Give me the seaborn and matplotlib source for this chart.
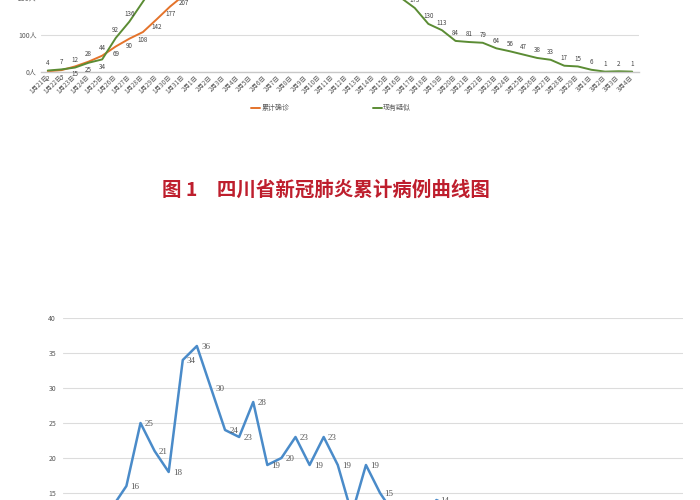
import matplotlib
matplotlib.use("Agg")
import matplotlib.pyplot as plt
import seaborn as sns
import pandas as pd
from matplotlib.lines import Line2D

# ---------------- data ----------------
dates = ([f"1月{d}日" for d in range(21, 32)]
         + [f"2月{d}日" for d in range(1, 30)]
         + [f"3月{d}日" for d in range(1, 5)])

confirmed = [2, 5, 15, 28, 44, 69, 90, 108, 142, 177,
             207, 231, 254, 282, 301, 321, 344, 363, 386, 405,
             417, 436, 451, 463, 470, 481, 495, 508, 514, 520,
             525, 526, 526, 527, 529, 531, 534, 538, 538, 538,
             538, 538, 539, 539]

suspected = [4, 7, 12, 25, 34, 92, 136, 190, 245, 300,
             350, 395, 430, 455, 470, 478, 480, 472, 455, 430,
             400, 365, 330, 295, 260, 230, 200, 173, 130, 113,
             84, 81, 79, 64, 56, 47, 38, 33, 17, 15,
             6, 1, 2, 1]

daily_new = [2, 3, 10, 13, 16, 25, 21, 18, 34, 36,
             30, 24, 23, 28, 19, 20, 23, 19, 23, 19,
             12, 19, 15, 12, 7, 11, 14, 13, 6, 6,
             5, 1, 0, 1, 2, 2, 3, 4, 0, 0,
             0, 0, 1, 0]

series_names = ["累计确诊", "现有疑似"]
title_text = "图 1　四川省新冠肺炎累计病例曲线图"

# ---------------- style ----------------
sns.set_theme(style="white")
plt.rcParams["font.family"] = ["Noto Sans CJK SC", "DejaVu Sans"]

W, H = 700, 500
fig = plt.figure(figsize=(7, 5), dpi=100)

ORANGE = "#E4732B"
GREEN = "#5B8C34"
BLUE = "#4A8BC9"
GRID = "#DCDCDC"
TXT = "#595959"

df = pd.DataFrame({"idx": range(len(dates)), "date": dates,
                   "confirmed": confirmed, "suspected": suspected,
                   "daily": daily_new})

# ---------------- top chart ----------------
ax1 = fig.add_axes([41 / W, (H - 72) / H, 598 / W, 222 / H])
sns.lineplot(data=df, x="idx", y="confirmed", ax=ax1, color=ORANGE, linewidth=1.4)
sns.lineplot(data=df, x="idx", y="suspected", ax=ax1, color=GREEN, linewidth=1.4)
ax1.set_xlim(-0.5, len(dates) - 0.5)
ax1.set_ylim(0, 600)
ax1.set_yticks(range(0, 601, 100))
ax1.set_yticklabels([f"{v}人" for v in range(0, 601, 100)], fontsize=5, color=TXT)
ax1.set_xticks(range(len(dates)))
ax1.set_xticklabels(dates, rotation=45, ha="right", va="center",
                    rotation_mode="anchor", fontsize=4.6, color=TXT)
ax1.tick_params(axis="both", length=0, pad=3)
ax1.set_xlabel("")
ax1.set_ylabel("")
ax1.yaxis.grid(True, color=GRID, linewidth=0.8)
ax1.set_axisbelow(True)
for s in ["top", "left", "right"]:
    ax1.spines[s].set_visible(False)
ax1.spines["bottom"].set_color("#C8C8C8")
ax1.spines["bottom"].set_linewidth(1.0)

swap = {3, 4}   # where the orange labels sit above and the green ones below
for i, v in enumerate(confirmed):
    dy = 5.5 if i in swap else -5.5
    ax1.annotate(str(v), (i, v), xytext=(0, dy), textcoords="offset points",
                 ha="center", va="center", fontsize=4.5, color="#444444")
for i, v in enumerate(suspected):
    dy = -5.5 if i in swap else 5.5
    ax1.annotate(str(v), (i, v), xytext=(0, dy), textcoords="offset points",
                 ha="center", va="center", fontsize=4.5, color="#444444")

handles = [Line2D([0], [0], color=ORANGE, lw=1.4), Line2D([0], [0], color=GREEN, lw=1.4)]
fig.legend(handles, series_names, loc="center", bbox_to_anchor=(331 / W, 1 - 108 / H),
           ncol=2, frameon=False, fontsize=5, handlelength=1.3,
           handletextpad=0.2, columnspacing=12, labelcolor=TXT)

# ---------------- title ----------------
fig.text(326 / W, 1 - 190 / H, title_text, ha="center", va="center",
         fontsize=14, fontweight="bold", color="#BE1E2D")

# ---------------- bottom chart ----------------
ax2 = fig.add_axes([63 / W, (H - 598) / H, 620 / W, 280 / H])
sns.lineplot(data=df, x="idx", y="daily", ax=ax2, color=BLUE, linewidth=1.8)
ax2.set_xlim(-0.5, len(dates) - 0.5)
ax2.set_ylim(0, 40)
ax2.set_yticks(range(0, 41, 5))
ax2.set_yticklabels([str(v) for v in range(0, 41, 5)], fontsize=5, color=TXT)
ax2.set_xticks([])
ax2.tick_params(axis="y", length=0, pad=5)
ax2.set_xlabel("")
ax2.set_ylabel("")
ax2.yaxis.grid(True, color=GRID, linewidth=0.8)
ax2.set_axisbelow(True)
for s in ax2.spines.values():
    s.set_visible(False)

for i, v in enumerate(daily_new):
    ax2.annotate(str(v), (i, v), xytext=(3, -1), textcoords="offset points",
                 ha="left", va="center", fontsize=6.5, color=TXT,
                 family="Liberation Serif")

fig.savefig("out.png", dpi=100)
